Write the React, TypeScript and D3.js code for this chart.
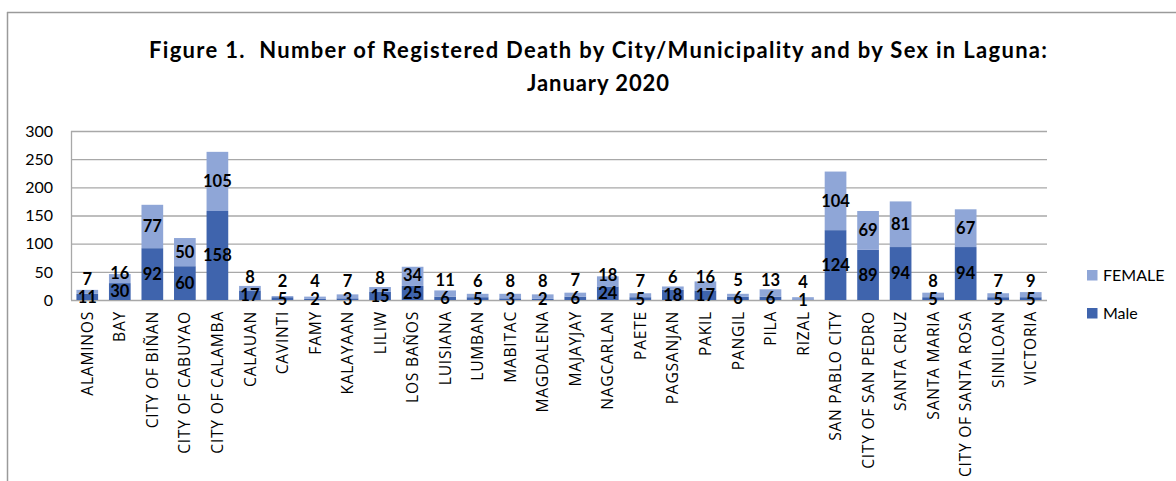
import React from "react";
import * as d3 from "d3";

const categories: string[] = [
  "ALAMINOS", "BAY", "CITY OF BIÑAN", "CITY OF CABUYAO", "CITY OF CALAMBA",
  "CALAUAN", "CAVINTI", "FAMY", "KALAYAAN", "LILIW", "LOS BAÑOS", "LUISIANA",
  "LUMBAN", "MABITAC", "MAGDALENA", "MAJAYJAY", "NAGCARLAN", "PAETE",
  "PAGSANJAN", "PAKIL", "PANGIL", "PILA", "RIZAL", "SAN PABLO CITY",
  "CITY OF SAN PEDRO", "SANTA CRUZ", "SANTA MARIA", "CITY OF SANTA ROSA",
  "SINILOAN", "VICTORIA",
];

const maleValues: number[] = [
  11, 30, 92, 60, 158, 17, 5, 2, 3, 15, 25, 6, 5, 3, 2, 6, 24, 5, 18, 17, 6, 6,
  1, 124, 89, 94, 5, 94, 5, 5,
];
const femaleValues: number[] = [
  7, 16, 77, 50, 105, 8, 2, 4, 7, 8, 34, 11, 6, 8, 8, 7, 18, 7, 6, 16, 5, 13,
  4, 104, 69, 81, 8, 67, 7, 9,
];
const yTicks: number[] = [0, 50, 100, 150, 200, 250, 300];
const seriesNames: string[] = ["FEMALE", "Male"];

const titleLine1 =
  "Figure 1.  Number of Registered Death by City/Municipality and by Sex in Laguna:";
const titleLine2 = "January 2020";

const W = 1176;
const H = 481;
const FONT = "Lato, 'Open Sans', sans-serif";
const AXFONT = "'Open Sans', Lato, sans-serif";
const DARK = "#3f64ad";
const LIGHT = "#8fa6d7";
const GRID = "#a8a8a8";

export default function App() {
  const left = 71;
  const right = 1047;
  const top = 131;
  const bottom = 300;

  const x = d3
    .scaleBand<string>()
    .domain(categories)
    .range([left, right])
    .paddingInner(1 / 3)
    .paddingOuter(1 / 6);
  const y = d3.scaleLinear().domain([0, 300]).range([bottom, top]);

  const rows = categories.map((c, i) => ({ cat: c, male: maleValues[i], female: femaleValues[i] }));
  const stack = d3.stack<any>().keys(["male", "female"])(rows as any);

  return (
    <svg
      width={W}
      height={H}
      style={{ position: "absolute", left: 0, top: 0, background: "#fff" }}
      fontFamily={FONT}
    >
      {/* frame */}
      <line x1={7.5} x2={7.5} y1={12} y2={H} stroke="#9a9a9a" strokeWidth={1.5} />
      <line x1={7} x2={W} y1={12.5} y2={12.5} stroke="#9a9a9a" strokeWidth={1.5} />

      {/* title */}
      <text
        x={598}
        y={58}
        textAnchor="middle"
        fontSize={22}
        fontWeight={700}
        fill="#000"
        textLength={898}
        lengthAdjust="spacing"
        style={{ whiteSpace: "pre" }}
      >
        {titleLine1}
      </text>
      <text
        x={598}
        y={91}
        textAnchor="middle"
        fontSize={22}
        fontWeight={700}
        fill="#000"
        textLength={142}
        lengthAdjust="spacing"
      >
        {titleLine2}
      </text>

      {/* gridlines */}
      {yTicks.map((t) => (
        <g key={t}>
          <line x1={left} x2={right} y1={y(t) + 0.5} y2={y(t) + 0.5} stroke={GRID} strokeWidth={1.3} />
          <text x={53} y={y(t)} dy="0.36em" textAnchor="end" fontSize={16} fill="#000">
            {t}
          </text>
        </g>
      ))}
      <line x1={left + 0.5} x2={left + 0.5} y1={top} y2={bottom} stroke={GRID} strokeWidth={1.3} />

      {/* bars */}
      {stack.map((s, si) => (
        <g key={si} fill={si === 0 ? DARK : LIGHT}>
          {s.map((d: any, i: number) => (
            <rect
              key={i}
              x={x(categories[i])!}
              width={x.bandwidth()}
              y={y(d[1])}
              height={y(d[0]) - y(d[1])}
            />
          ))}
        </g>
      ))}

      {/* data labels */}
      {rows.map((r, i) => {
        const cx = x(r.cat)! + x.bandwidth() / 2;
        const maleC = (y(0) + y(r.male)) / 2;
        const femC = (y(r.male) + y(r.male + r.female)) / 2;
        const femY = Math.min(femC, maleC - 18);
        return (
          <g key={i} fontSize={16.5} fontWeight={700} fill="#000" textAnchor="middle">
            <text x={cx} y={maleC} dy="0.36em">{r.male}</text>
            <text x={cx} y={femY} dy="0.36em">{r.female}</text>
          </g>
        );
      })}

      {/* x labels */}
      {categories.map((c) => (
        <text
          key={c}
          transform={`translate(${x(c)! + x.bandwidth() / 2},311) rotate(-90)`}
          textAnchor="end"
          dy="0.36em"
          fontSize={15.6}
          letterSpacing={0.75}
          fontFamily={AXFONT}
          fill="#000"
        >
          {c}
        </text>
      ))}

      {/* legend */}
      {seriesNames.map((n, i) => (
        <g key={n} transform={`translate(1087,${270 + i * 38})`}>
          <rect x={0} y={0} width={10.5} height={10.5} fill={i === 0 ? LIGHT : DARK} />
          <text x={16} y={5.5} dy="0.36em" fontSize={16} fill="#000">
            {n}
          </text>
        </g>
      ))}
    </svg>
  );
}
